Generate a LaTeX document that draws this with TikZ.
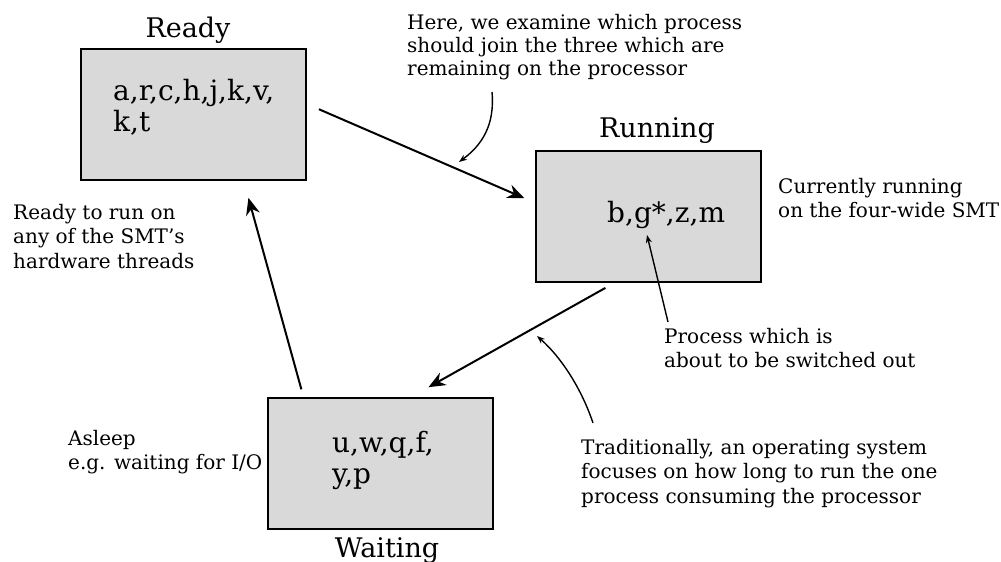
\documentclass[tikz,border=0pt]{standalone}
\usepackage{fontspec}
\setmainfont{DejaVu Serif}
\usetikzlibrary{arrows.meta}

\tikzset{
  statebox/.style={draw, line width=2pt, fill=gray!30, minimum width=225pt, minimum height=131pt, inner sep=0pt},
  statename/.style={font=\fontsize{27}{32}\selectfont, anchor=base},
  contents/.style={font=\fontsize{28}{31}\selectfont, align=left, anchor=north west, inner sep=0pt},
  note/.style={font=\fontsize{20}{24.5}\selectfont, align=left, anchor=north west, inner sep=0pt},
  move/.style={line width=2pt, -{Stealth[length=17pt,width=14pt]}},
  pointer/.style={line width=1.4pt, -{Stealth[length=8pt,width=6pt]}},
}

\begin{document}
\begin{tikzpicture}[x=1pt,y=-1pt]
\useasboundingbox (0,0) rectangle (1001,562);

% the three states
\node[statebox] (ready) at (193.5,114) {};
\node[statebox] (running) at (648,216.5) {};
\node[statebox] (waiting) at (380,463.5) {};

\node[statename] (readyname) at (188,37) {Ready};
\node[statename] (runningname) at (657,137) {Running};
\node[statename] (waitingname) at (387,557) {Waiting};

\node[contents] (readylist) at (113,79) {a,r,c,h,j,k,v,\\k,t};
\node[contents] (runninglist) at (607,201) {b,g*,z,m};
\node[contents] (waitinglist) at (332,431) {u,w,q,f,\\y,p};

% notes
\node[note, font=\fontsize{20}{23.3}\selectfont] (here) at (407,14) {Here, we examine which process\\should join the three which are\\remaining on the processor};
\node[note] (current) at (778,178) {Currently running\\on the four-wide SMT};
\node[note] (readynote) at (13,204) {Ready to run on\\any of the SMT’s\\hardware threads};
\node[note] (asleep) at (68,430) {Asleep\\e.g. waiting for I/O};
\node[note] (switched) at (664,328) {Process which is\\about to be switched out};
\node[note] (tradition) at (581,439) {Traditionally, an operating system\\focuses on how long to run the one\\process consuming the processor};

% transitions
\draw[move, shorten <=13pt, shorten >=11pt] (ready.5.6) -- (running.173.7);
\draw[move, shorten <=10pt, shorten >=20pt] (running.243.1) -- (waiting.65.1);
\draw[move, shorten <=8pt, shorten >=18pt] (waiting.139.2) -- (ready.307);

% pointers
\coordinate (herefrom) at (492,92);
\coordinate (hereto) at (459,162);
\draw[pointer] (herefrom) .. controls (495,125) and (482,145) .. (hereto);
\coordinate (switchfrom) at (668,322);
\coordinate (switchto) at (647,235);
\draw[pointer] (switchfrom) -- (switchto);
\coordinate (traditionfrom) at (593,423);
\coordinate (traditionto) at (537,336);
\draw[pointer] (traditionfrom) .. controls (582,390) and (562,358) .. (traditionto);
\end{tikzpicture}
\end{document}
